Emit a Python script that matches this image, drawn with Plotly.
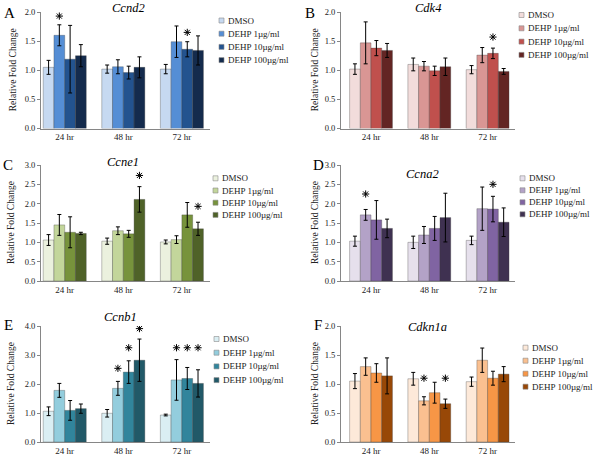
import plotly.graph_objects as go

categories = ["24 hr", "48 hr", "72 hr"]
series = ["DMSO", "DEHP 1µg/ml", "DEHP 10µg/ml", "DEHP 100µg/ml"]

# values[series][time], errors[series][time]
ccnd2_vals = [[1.05, 1.02, 1.02], [1.60, 1.06, 1.49], [1.19, 0.96, 1.36], [1.25, 1.05, 1.34]]
ccnd2_err = [[0.12, 0.07, 0.08], [0.18, 0.12, 0.27], [0.58, 0.11, 0.13], [0.19, 0.18, 0.25]]
ccnd2_stars = [(1, 0, 1.93), (2, 2, 1.65)]

cdk4_vals = [[1.02, 1.10, 1.01], [1.47, 1.07, 1.26], [1.38, 0.99, 1.29], [1.34, 1.06, 0.98]]
cdk4_err = [[0.09, 0.11, 0.07], [0.36, 0.08, 0.13], [0.13, 0.08, 0.09], [0.12, 0.15, 0.05]]
cdk4_stars = [(2, 2, 1.57)]

ccne1_vals = [[1.06, 1.03, 1.01], [1.45, 1.30, 1.07], [1.26, 1.22, 1.71], [1.23, 2.11, 1.35]]
ccne1_err = [[0.14, 0.08, 0.05], [0.27, 0.10, 0.10], [0.40, 0.09, 0.32], [0.03, 0.33, 0.17]]
ccne1_stars = [(3, 1, 2.73), (3, 2, 1.93)]

ccna2_vals = [[1.03, 1.00, 1.05], [1.71, 1.19, 1.87], [1.58, 1.36, 1.86], [1.36, 1.64, 1.52]]
ccna2_err = [[0.13, 0.16, 0.11], [0.14, 0.22, 0.56], [0.50, 0.31, 0.33], [0.24, 0.63, 0.37]]
ccna2_stars = [(1, 0, 2.25), (2, 2, 2.50)]

ccnb1_vals = [[1.06, 0.99, 0.93], [1.78, 1.85, 2.14], [1.09, 2.41, 2.19], [1.15, 2.82, 2.02]]
ccnb1_err = [[0.15, 0.13, 0.03], [0.24, 0.24, 0.70], [0.34, 0.39, 0.38], [0.16, 0.73, 0.47]]
ccnb1_stars = [(1, 1, 2.54), (2, 1, 3.25), (3, 1, 3.91), (1, 2, 3.25), (2, 2, 3.25), (3, 2, 3.25)]

cdkn1a_vals = [[1.05, 1.09, 1.04], [1.30, 0.71, 1.41], [1.19, 0.85, 1.10], [1.14, 0.66, 1.17]]
cdkn1a_err = [[0.13, 0.11, 0.08], [0.15, 0.07, 0.21], [0.16, 0.18, 0.12], [0.31, 0.08, 0.13]]
cdkn1a_stars = [(1, 1, 1.10), (3, 1, 1.10)]

W, H = 600, 460
FONT = "Liberation Serif, Times New Roman, Times, DejaVu Serif, serif"
BARGAP = 0.265


def px(x):
    return x / W


def py(y):
    return 1 - y / H


panels = [
    dict(gene="Ccnd2", letter="A", vals=ccnd2_vals, err=ccnd2_err, stars=ccnd2_stars,
         colors=["#c6d9f1", "#558ed5", "#23538f", "#142b4d"], ymax=2.0, dtick=0.5,
         xd=(41, 210), xr=(-0.405, 2.48), yd=(12, 128.5),
         title=(128, 8.5), letterpos=(9, 13), ytitle=13, leg=(219, 20.5, 13.2)),
    dict(gene="Cdk4", letter="B", vals=cdk4_vals, err=cdk4_err, stars=cdk4_stars,
         colors=["#f2dcdb", "#d99694", "#c0504d", "#632523"], ymax=2.0, dtick=0.5,
         xd=(341, 515), xr=(-0.515, 2.47), yd=(12, 128.5),
         title=(428, 8), letterpos=(310, 13), ytitle=315, leg=(519, 15, 13.3)),
    dict(gene="Ccne1", letter="C", vals=ccne1_vals, err=ccne1_err, stars=ccne1_stars,
         colors=["#ebf1de", "#c3d69b", "#77933c", "#4f6228"], ymax=3.0, dtick=0.5,
         xd=(41, 210), xr=(-0.405, 2.48), yd=(165, 281),
         title=(123, 161.5), letterpos=(8, 165), ytitle=11, leg=(213, 178.3, 12.2)),
    dict(gene="Ccna2", letter="D", vals=ccna2_vals, err=ccna2_err, stars=ccna2_stars,
         colors=["#e6e0ec", "#b3a2c7", "#8064a2", "#3f3151"], ymax=3.0, dtick=0.5,
         xd=(341, 515), xr=(-0.515, 2.47), yd=(165, 281),
         title=(422, 173.5), letterpos=(318, 165), ytitle=315, leg=(520, 178.3, 12.0)),
    dict(gene="Ccnb1", letter="E", vals=ccnb1_vals, err=ccnb1_err, stars=ccnb1_stars,
         colors=["#daeef3", "#93cddd", "#31859c", "#215968"], ymax=4.0, dtick=1.0,
         xd=(41, 210), xr=(-0.405, 2.48), yd=(326, 442),
         title=(120, 316.5), letterpos=(8, 325), ytitle=11, leg=(214, 339, 13.7)),
    dict(gene="Cdkn1a", letter="F", vals=cdkn1a_vals, err=cdkn1a_err, stars=cdkn1a_stars,
         colors=["#fde9d9", "#fac090", "#f79646", "#984807"], ymax=2.0, dtick=0.5,
         xd=(341, 515), xr=(-0.515, 2.47), yd=(326, 442),
         title=(427, 326.5), letterpos=(318, 325), ytitle=315, leg=(523, 347.7, 13.0)),
]

fig = go.Figure()
annotations = []
shapes = []
layout_axes = {}
bar_w = (1 - BARGAP) / len(series)

for p_i, p in enumerate(panels):
    n = p_i + 1
    xa = "x" if n == 1 else f"x{n}"
    ya = "y" if n == 1 else f"y{n}"
    xkey = "xaxis" if n == 1 else f"xaxis{n}"
    ykey = "yaxis" if n == 1 else f"yaxis{n}"
    for s_i, name in enumerate(series):
        fig.add_trace(go.Bar(
            x=list(range(len(categories))), y=p["vals"][s_i], name=name,
            xaxis=xa, yaxis=ya, offsetgroup=str(s_i), showlegend=False,
            marker=dict(color=p["colors"][s_i], line=dict(color="rgba(60,60,60,0.55)", width=0.6)),
            error_y=dict(type="data", array=p["err"][s_i], visible=True,
                         color="#000000", thickness=1, width=2),
        ))
    if p["stars"]:
        fig.add_trace(go.Scatter(
            x=[t_i + (s_i - 1.5) * bar_w for (s_i, t_i, lvl) in p["stars"]],
            y=[lvl for (s_i, t_i, lvl) in p["stars"]],
            xaxis=xa, yaxis=ya, mode="markers", showlegend=False, hoverinfo="skip",
            marker=dict(symbol="asterisk-open", size=6, color="#000000",
                        line=dict(color="#000000", width=1)),
        ))
    layout_axes[xkey] = dict(
        domain=[px(p["xd"][0]), px(p["xd"][1])], range=list(p["xr"]),
        anchor=ya, tickvals=list(range(len(categories))), ticktext=categories,
        showline=True, linecolor="#868686", linewidth=1, ticks="",
        showgrid=False, zeroline=False, fixedrange=True, automargin=False,
        tickfont=dict(family=FONT, size=9, color="#222222"),
    )
    layout_axes[ykey] = dict(
        domain=[py(p["yd"][1]), py(p["yd"][0])], range=[0, p["ymax"]],
        anchor=xa, dtick=p["dtick"], tick0=0, tickformat=".1f",
        showline=True, linecolor="#868686", linewidth=1, ticks="outside",
        ticklen=3, tickcolor="#868686", showgrid=False, zeroline=False,
        automargin=False, fixedrange=True,
        tickfont=dict(family=FONT, size=8.5, color="#222222"),
    )
    annotations.append(dict(text=f"<i>{p['gene']}</i>", x=px(p["title"][0]), y=py(p["title"][1]),
                            xref="paper", yref="paper", showarrow=False,
                            xanchor="center", yanchor="middle",
                            font=dict(family=FONT, size=12.5, color="#000000")))
    annotations.append(dict(text=p["letter"], x=px(p["letterpos"][0]), y=py(p["letterpos"][1]),
                            xref="paper", yref="paper", showarrow=False,
                            xanchor="center", yanchor="middle",
                            font=dict(family=FONT, size=15, color="#000000")))
    annotations.append(dict(text="Relative Fold Change", textangle=-90,
                            x=px(p["ytitle"]), y=py((p["yd"][0] + p["yd"][1]) / 2),
                            xref="paper", yref="paper", showarrow=False,
                            xanchor="center", yanchor="middle",
                            font=dict(family=FONT, size=9.5, color="#222222")))
    lx, ly0, ldy = p["leg"]
    for s_i, name in enumerate(series):
        yc = ly0 + s_i * ldy
        shapes.append(dict(type="rect", xref="paper", yref="paper",
                           x0=px(lx), x1=px(lx + 5), y0=py(yc + 2.5), y1=py(yc - 2.5),
                           fillcolor=p["colors"][s_i], line=dict(color="#8c8c8c", width=0.6)))
        annotations.append(dict(text=name, x=px(lx + 6.5), y=py(yc), xref="paper", yref="paper",
                                showarrow=False, xanchor="left", yanchor="middle",
                                font=dict(family=FONT, size=9, color="#222222")))

fig.update_layout(
    width=W, height=H, margin=dict(l=0, r=0, t=0, b=0, autoexpand=False),
    paper_bgcolor="white", plot_bgcolor="white",
    font=dict(family=FONT),
    barmode="group", bargap=BARGAP, bargroupgap=0,
    showlegend=False, annotations=annotations, shapes=shapes,
    **layout_axes,
)

fig.write_html(
    "out.html",
    config={"displayModeBar": False, "staticPlot": True},
    post_script="document.body.style.margin='0';document.body.style.overflow='hidden';",
)
